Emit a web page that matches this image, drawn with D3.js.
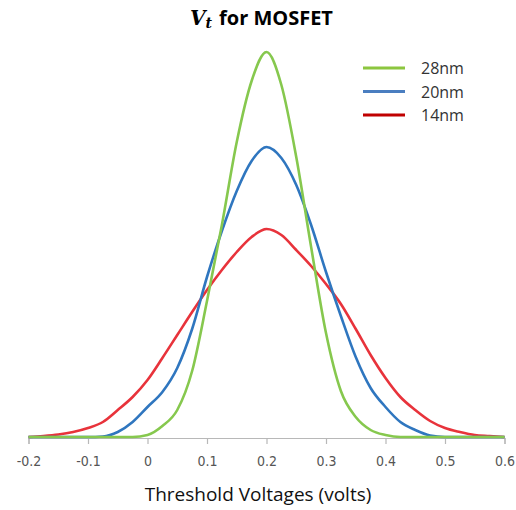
<!DOCTYPE html>
<html>
<head>
<meta charset="utf-8">
<script src="https://cdn.jsdelivr.net/npm/d3@7"></script>
<style>
  body { margin: 0; background: #fff; }
  svg { display: block; }
</style>
</head>
<body>
<svg id="chart" width="516" height="510"></svg>
<script>
// threshold voltage grid (volts)
var voltages = [-0.2, -0.175, -0.15, -0.125, -0.1, -0.075, -0.05, -0.025, 0, 0.025, 0.05, 0.075,
  0.1, 0.125, 0.15, 0.175, 0.2, 0.225, 0.25, 0.275, 0.3, 0.325, 0.35, 0.375, 0.4,
  0.425, 0.45, 0.475, 0.5, 0.525, 0.55, 0.575, 0.6];

// relative frequency
var nm28 = [0, 0, 0, 0, 0, 0, 0, 0, 0.02, 0.11, 0.27, 0.66,
  1.36, 2.12, 2.95, 3.56, 3.85, 3.52, 2.80, 1.90, 1.04, 0.46, 0.20, 0.07, 0.02,
  0, 0, 0, 0, 0, 0, 0, 0];
var nm20 = [0, 0, 0, 0, 0, 0.005, 0.05, 0.15, 0.30, 0.45, 0.69, 1.08,
  1.60, 2.06, 2.46, 2.76, 2.90, 2.79, 2.52, 2.12, 1.65, 1.21, 0.80, 0.49, 0.30,
  0.15, 0.07, 0.015, 0, 0, 0, 0, 0];
var nm14 = [0, 0.01, 0.025, 0.05, 0.09, 0.15, 0.27, 0.40, 0.57, 0.79, 1.02, 1.25,
  1.47, 1.67, 1.85, 2.00, 2.08, 2.02, 1.87, 1.71, 1.53, 1.33, 1.08, 0.82, 0.59,
  0.40, 0.27, 0.16, 0.09, 0.05, 0.02, 0.01, 0];

var seriesNames = ["28nm", "20nm", "14nm"];
var seriesValues = [nm28, nm20, nm14];
var lineColors = ["#86c84e", "#2f76bf", "#e8333b"];
var legendColors = ["#8cc63f", "#4a7ec0", "#c00000"];
var tickValues = [-0.2, -0.1, 0, 0.1, 0.2, 0.3, 0.4, 0.5, 0.6];
var tickLabels = ["-0.2", "-0.1", "0", "0.1", "0.2", "0.3", "0.4", "0.5", "0.6"];

var svg = d3.select("#chart");

var x = d3.scaleLinear().domain([-0.2, 0.6]).range([28.5, 504.5]);
var y = d3.scaleLinear().domain([0, 4]).range([437, 37]);

// x axis
var xAxis = svg.append("g")
    .attr("transform", "translate(0,438)")
    .call(d3.axisBottom(x).tickValues(tickValues).tickSize(6).tickPadding(12)
      .tickFormat(function(d, i) { return tickLabels[i]; }));
xAxis.select(".domain").attr("stroke", "#b8b8b8").attr("stroke-width", 1.2);
xAxis.selectAll(".tick line").attr("stroke", "#b8b8b8").attr("stroke-width", 1.2);
xAxis.selectAll(".tick text")
    .attr("fill", "#555")
    .style("font-family", "'Liberation Sans Narrow', 'DejaVu Sans Condensed', sans-serif")
    .style("font-size", "14px");

// curves, drawn red first so green lies on top
var line = d3.line()
    .x(function(d, i) { return x(voltages[i]); })
    .y(function(d) { return y(d); })
    .curve(d3.curveMonotoneX);

[2, 1, 0].forEach(function(k) {
  svg.append("path")
      .datum(seriesValues[k])
      .attr("fill", "none")
      .attr("stroke", lineColors[k])
      .attr("stroke-width", 2.6)
      .attr("stroke-linejoin", "round")
      .attr("d", line);
});

// legend
var legend = svg.append("g");
seriesNames.forEach(function(name, i) {
  var ly = 68 + i * 23.5;
  legend.append("line")
      .attr("x1", 363).attr("x2", 405)
      .attr("y1", ly).attr("y2", ly)
      .attr("stroke", legendColors[i])
      .attr("stroke-width", 3);
  legend.append("text")
      .attr("x", 421).attr("y", ly + 6)
      .attr("fill", "#333")
      .style("font-family", "'Open Sans', sans-serif")
      .style("font-size", "16px")
      .text(name);
});

// title
var title = svg.append("text")
    .attr("x", 190).attr("y", 25)
    .style("font-weight", "bold")
    .style("font-size", "20px");
title.append("tspan")
    .style("font-family", "'DejaVu Serif', serif")
    .style("font-style", "italic")
    .text("V");
title.append("tspan")
    .style("font-family", "'DejaVu Serif', serif")
    .style("font-style", "italic")
    .style("font-size", "14px")
    .attr("dy", 3)
    .text("t");
title.append("tspan")
    .style("font-family", "'Open Sans', sans-serif")
    .attr("dy", -3)
    .attr("dx", 7)
    .text("for MOSFET");

// x axis label
svg.append("text")
    .attr("x", 258).attr("y", 501)
    .attr("text-anchor", "middle")
    .attr("fill", "#111")
    .style("font-family", "'Open Sans', sans-serif")
    .style("font-size", "19px")
    .text("Threshold Voltages (volts)");
</script>
</body>
</html>
